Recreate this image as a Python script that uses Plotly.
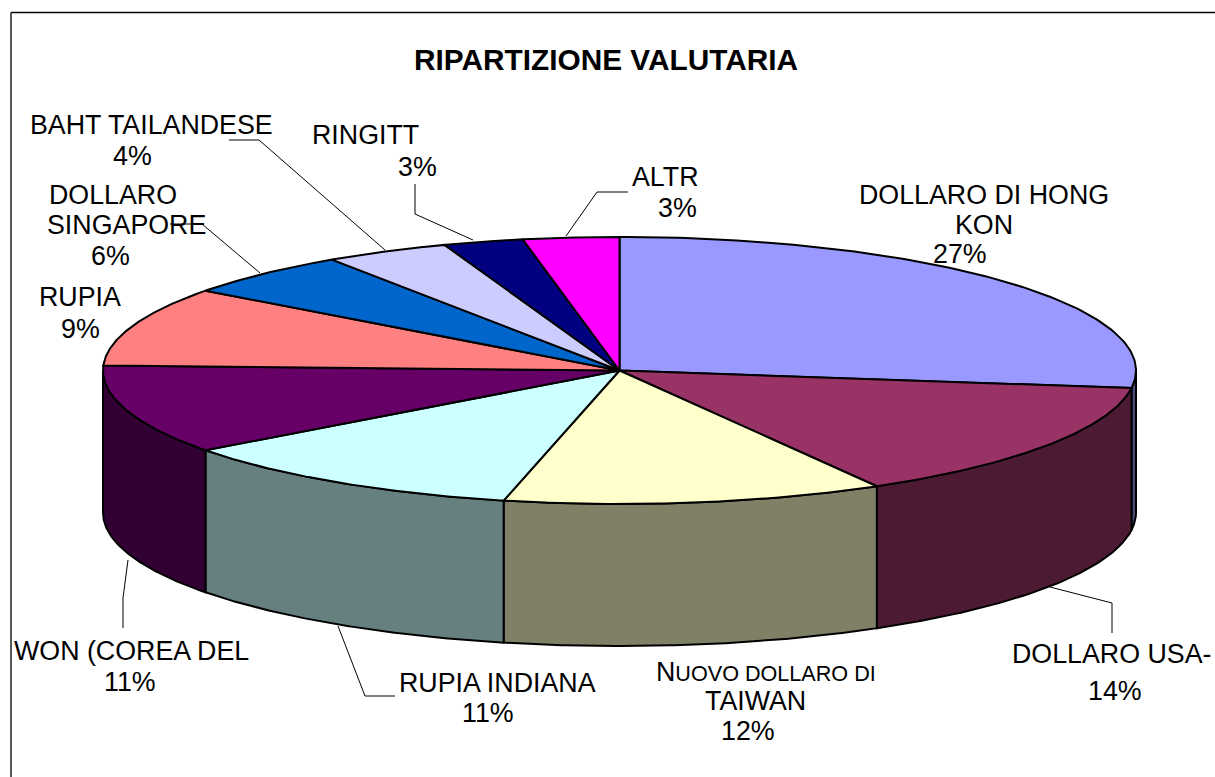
import numpy as np
import plotly.graph_objects as go

# ---- data ----
categories = ["DOLLARO DI HONG KON", "DOLLARO USA-", "NUOVO DOLLARO DI TAIWAN", "RUPIA INDIANA",
              "WON (COREA DEL", "RUPIA", "DOLLARO SINGAPORE", "BAHT TAILANDESE", "RINGITT", "ALTR"]
values = [27.1, 14.6, 11.9, 11.2, 10.8, 9.6, 5.4, 3.9, 2.5, 3.0]
percent_labels = ["27%", "14%", "12%", "11%", "11%", "9%", "6%", "4%", "3%", "3%"]
top_colors = ["#9999FF", "#993366", "#FFFFCC", "#CCFFFF", "#660066",
              "#FF8080", "#0066CC", "#CCCCFF", "#000080", "#FF00FF"]
side_colors = ["#4C4C80", "#4D1A33", "#808066", "#668080", "#330033",
               "#804040", "#003366", "#666680", "#000040", "#800080"]
title_text = "RIPARTIZIONE VALUTARIA"

# ---- layout of the drawing, in canvas pixels ----
W, H = 1215, 777
CX, CY, RX, RY, DEPTH = 619.5, 370.5, 516.5, 133.5, 142
FONT = "Liberation Sans, Arial, sans-serif"
TEXT_SIZE = 26.8

# text lines: (text, centre x, centre y)
text_lines = [
    ("DOLLARO DI HONG", 984, 195), ("KON", 984, 225), (percent_labels[0], 960, 254),
    ("DOLLARO USA-", 1112, 654), (percent_labels[1], 1115, 691),
    ("N<span style='font-size:21.6px'>UOVO DOLLARO DI</span>", 766, 672), ("TAIWAN", 755, 701), (percent_labels[2], 748, 731),
    ("RUPIA INDIANA", 497, 683), (percent_labels[3], 488, 713),
    ("WON (COREA DEL", 131, 651), (percent_labels[4], 130, 682),
    ("RUPIA", 80, 297), (percent_labels[5], 80, 329),
    ("DOLLARO", 113, 195), ("SINGAPORE", 126, 225), (percent_labels[6], 110, 256),
    ("BAHT TAILANDESE", 151, 125), (percent_labels[7], 132, 156),
    ("RINGITT", 365, 135), (percent_labels[8], 417, 167),
    ("ALTR", 665, 177), (percent_labels[9], 677, 208),
]

leader_lines = [
    [(229, 140), (259, 140), (385, 250)],
    [(170, 224), (202, 224), (260, 273)],
    [(415, 184), (415, 214), (473, 240)],
    [(628, 192), (597, 192), (566, 236)],
    [(1050, 587), (1112, 603), (1112, 633)],
    [(128, 560), (123, 598), (123, 628)],
    [(338, 626), (365, 696), (395, 696)],
]


def rim(t_deg):
    t = np.radians(t_deg)
    return CX + RX * np.sin(t), CY - RY * np.cos(t)


fig = go.Figure()

edges = np.concatenate([[0], np.cumsum(values)]) / sum(values) * 360

# side walls: only the front half of the rim can be seen
for i, name in enumerate(categories):
    a, b = max(edges[i], 90), min(edges[i + 1], 270)
    if b <= a:
        continue
    ts = np.linspace(a, b, 120)
    x, y = rim(ts)
    fig.add_trace(go.Scatter(
        x=np.concatenate([x, x[::-1], x[:1]]),
        y=np.concatenate([y, y[::-1] + DEPTH, y[:1]]),
        mode="lines", fill="toself", fillcolor=side_colors[i],
        line=dict(color="black", width=2), name=name + " (side)", hoverinfo="skip", showlegend=False))

# top wedges
for i, name in enumerate(categories):
    ts = np.linspace(edges[i], edges[i + 1], 120)
    x, y = rim(ts)
    fig.add_trace(go.Scatter(
        x=np.concatenate([[CX], x, [CX]]),
        y=np.concatenate([[CY], y, [CY]]),
        mode="lines", fill="toself", fillcolor=top_colors[i],
        line=dict(color="black", width=2), name=name, showlegend=False,
        hovertemplate=name + " " + percent_labels[i] + "<extra></extra>"))

# leader lines
for pts in leader_lines:
    fig.add_trace(go.Scatter(x=[p[0] for p in pts], y=[p[1] for p in pts], mode="lines",
                             line=dict(color="black", width=1), hoverinfo="skip", showlegend=False))

annotations = [dict(x=tx, y=ty, xref="x", yref="y", text=s, showarrow=False, xanchor="center", yanchor="middle",
                    font=dict(family=FONT, size=TEXT_SIZE, color="black")) for s, tx, ty in text_lines]
annotations.append(dict(x=605.5, y=59, xref="x", yref="y", text="<b>" + title_text + "</b>", showarrow=False,
                        xanchor="center", yanchor="middle", font=dict(family=FONT, size=29.8, color="black")))

fig.update_layout(
    width=W, height=H, margin=dict(l=0, r=0, t=0, b=0), showlegend=False,
    paper_bgcolor="white", plot_bgcolor="white",
    xaxis=dict(range=[0, W], visible=False, fixedrange=True),
    yaxis=dict(range=[H, 0], visible=False, fixedrange=True),
    annotations=annotations,
    shapes=[dict(type="line", xref="x", yref="y", x0=11, y0=12.5, x1=W, y1=12.5, line=dict(color="black", width=1.5)),
            dict(type="line", xref="x", yref="y", x0=11, y0=12.5, x1=11, y1=H, line=dict(color="#222222", width=1.5))],
)

fig.write_html("out.html", config={"displayModeBar": False},
               post_script="document.body.style.margin='0';document.body.style.overflow='hidden';")
